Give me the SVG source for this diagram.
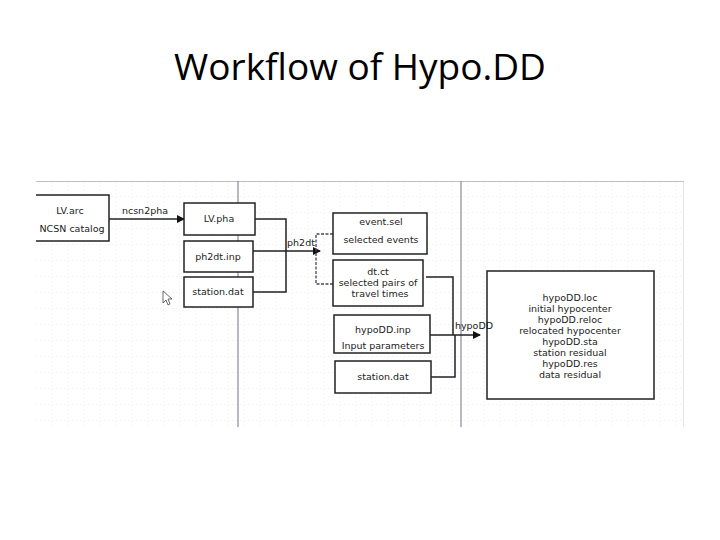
<svg xmlns="http://www.w3.org/2000/svg" width="720" height="540" viewBox="0 0 720 540">
<defs>
<pattern id="grid" width="16" height="16" patternUnits="userSpaceOnUse" x="36" y="181">
<path d="M16 0V16M0 16H16" fill="none" stroke="#e2e2e2" stroke-width="0.8" stroke-dasharray="2 2"/>
</pattern>
<clipPath id="frame"><rect x="36" y="181" width="648" height="246"/></clipPath>
<marker id="ar" markerWidth="8" markerHeight="8" refX="7" refY="4" orient="auto" markerUnits="userSpaceOnUse"><path d="M0 0L8 4L0 8z" fill="#111"/></marker>
</defs>
<style>
.b{fill:#fff;stroke:#222;stroke-width:1.5}
.t{font-family:"DejaVu Sans",sans-serif;font-size:9.5px;fill:#222;text-anchor:middle}
.c{fill:none;stroke:#222;stroke-width:1.5}
</style>
<rect width="720" height="540" fill="#fff"/>
<text x="360" y="80" font-family="Open Sans,sans-serif" font-size="37" text-anchor="middle" fill="#000">Workflow of Hypo.DD</text>
<g clip-path="url(#frame)">
<rect x="36" y="181" width="648" height="246" fill="url(#grid)"/>
<line x1="36" y1="181" x2="684" y2="181" stroke="#aaa" stroke-width="1.5"/>
<line x1="684" y1="181" x2="684" y2="427" stroke="#ccc"/>
<line x1="238" y1="181" x2="238" y2="427" stroke="#8888a0" stroke-width="1.2"/>
<line x1="461" y1="181" x2="461" y2="427" stroke="#8888a0" stroke-width="1.2"/>
<g id="connectors">
<line class="c" x1="109" y1="219" x2="184" y2="219" marker-end="url(#ar)"/>
<text class="t" x="145" y="214">ncsn2pha</text>
<path class="c" d="M255 219H286V292H253M253 251H320" marker-end="url(#ar)"/>
<text class="t" x="301" y="246">ph2dt</text>
<path d="M333 234H316V284H333" fill="none" stroke="#446" stroke-width="1.3" stroke-dasharray="3 1.5"/>
<path class="c" d="M426 277H453V335M431 377H455V335M430 335H480" marker-end="url(#ar)"/>
</g>
<g id="lvarc"><rect class="b" x="20" y="195" width="89" height="46"/><text class="t" x="70" y="214">LV.arc</text><text class="t" x="72" y="232">NCSN catalog</text></g>
</g>
<g id="lvpha"><rect class="b" x="184" y="203" width="71" height="32"/><text class="t" x="219" y="222">LV.pha</text></g>
<g id="ph2dtinp"><rect class="b" x="184" y="241" width="69" height="31"/><text class="t" x="218" y="260">ph2dt.inp</text></g>
<g id="station1"><rect class="b" x="184" y="277" width="69" height="30"/><text class="t" x="218" y="295">station.dat</text></g>
<g id="eventsel"><rect class="b" x="333" y="213" width="94" height="41"/><text class="t" x="381" y="225">event.sel</text><text class="t" x="381" y="243">selected events</text></g>
<g id="dtct"><rect class="b" x="333" y="260" width="90" height="46"/><text class="t" x="378" y="275">dt.ct</text><text class="t" x="378" y="286">selected pairs of</text><text class="t" x="380" y="297">travel times</text></g>
<g id="hypoinp"><rect class="b" x="334" y="315" width="96" height="38"/><text class="t" x="383" y="333">hypoDD.inp</text><text class="t" x="383" y="349">Input parameters</text></g>
<g id="station2"><rect class="b" x="335" y="361" width="96" height="32"/><text class="t" x="383" y="380">station.dat</text></g>
<g id="output"><rect class="b" x="487" y="271" width="167" height="128"/>
<text class="t" x="570" y="301">hypoDD.loc</text><text class="t" x="570" y="312">initial hypocenter</text><text class="t" x="570" y="323">hypoDD.reloc</text><text class="t" x="570" y="334">relocated hypocenter</text><text class="t" x="570" y="345">hypoDD.sta</text><text class="t" x="570" y="356">station residual</text><text class="t" x="570" y="367">hypoDD.res</text><text class="t" x="570" y="378">data residual</text></g>
<text class="t" x="474" y="329">hypoDD</text>
<path d="M163 291l0 12l3-3l2 5l2-1l-2-5l4 0z" fill="#fff" stroke="#444" stroke-width="0.8"/>
</svg>
